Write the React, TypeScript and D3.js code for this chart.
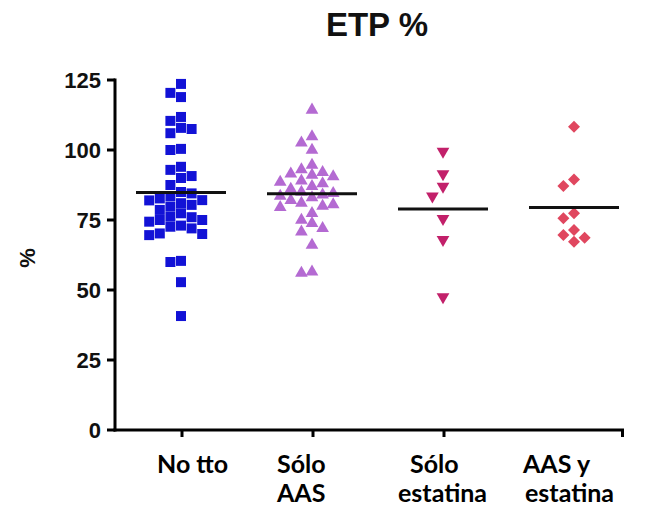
import React from "react";
import * as d3 from "d3";

const title = "ETP %";
const yLabel = "%";
const categories = ["No tto", "Sólo AAS", "Sólo estatina", "AAS y estatina"];
const categoryLines = [["No tto"], ["Sólo", "AAS"], ["Sólo", "estatina"], ["AAS y", "estatina"]];
const yTicks = [0, 25, 50, 75, 100, 125];

const noTto = [
  123.6, 120.4, 118.9, 111.8, 110.4, 107.9, 107.5, 106, 100.4, 100, 94, 92.9, 90.7, 90, 87.5,
  85, 84.5, 83.5, 82.7, 82.1, 82, 81, 80.4, 79.8, 78.6, 77.4, 76.2, 76, 75, 75, 74.4, 73, 72.6,
  72, 70.2, 70, 69.6, 60.4, 60, 52.8, 40.7,
];
const soloAAS = [
  114.3, 104.8, 102.6, 100, 94.6, 93, 92, 91.5, 91, 90.5, 89, 88.5, 88, 87, 86, 85, 84.5, 84,
  83.5, 83, 82, 81, 80.5, 80, 79.5, 77.4, 75, 73.8, 72, 70.8, 66, 56.5, 56,
];
const soloEstatina = [99.5, 91.5, 87, 83.5, 75.5, 68, 47.5];
const aasEstatina = [108.3, 89.5, 87.1, 77.4, 75.6, 71.4, 69.6, 68.7, 67.2];

const groups = [noTto, soloAAS, soloEstatina, aasEstatina];

// layout / style (not data)
const W = 645;
const H = 509;
const colors = ["#1212d6", "#b46ad2", "#c2206a", "#e0475f"];
const symbolTypes = [d3.symbolSquare, d3.symbolTriangle, d3.symbolTriangle, d3.symbolSquare];
const symbolSizes = [100, 70, 70, 72];
const symbolRotate = [0, 0, 180, 45];
const labelStarts = [[157], [277, 277], [410, 398], [523, 525]];
const COL_STEP = 10.6;
const MIN_DIST = 10;

function swarmOffsets(values: number[], y: (v: number) => number): number[] {
  const order = values.map((_, i) => i).sort((a, b) => values[b] - values[a]);
  const placed: { col: number; py: number }[] = [];
  const cols: number[] = new Array(values.length).fill(0);
  for (const i of order) {
    const py = y(values[i]);
    for (let k = 0; k < 60; k++) {
      const col = k === 0 ? 0 : k % 2 === 1 ? -Math.ceil(k / 2) : Math.ceil(k / 2);
      if (!placed.some((p) => p.col === col && Math.abs(p.py - py) < MIN_DIST)) {
        placed.push({ col, py });
        cols[i] = col;
        break;
      }
    }
  }
  return cols.map((c) => c * COL_STEP);
}

export default function App() {
  const y = d3.scaleLinear().domain([0, 125]).range([430, 80]);
  const x = d3.scalePoint<string>().domain(categories).range([181, 574]);
  const axisX0 = 115;
  const axisX1 = 624;
  const y0 = y(0);

  return (
    <svg width={W} height={H} style={{ position: "absolute", left: 0, top: 0, background: "#fff" }}>
      <rect width={W} height={H} fill="#fff" />
      <text
        x={377}
        y={36}
        textAnchor="middle"
        fontFamily="Liberation Sans, Arial, sans-serif"
        fontWeight="bold"
        fontSize={33}
        fill="#111"
      >
        {title}
      </text>

      {/* y axis */}
      <line x1={axisX0} x2={axisX0} y1={y(125) - 1.5} y2={y0 + 1.5} stroke="#000" strokeWidth={3} />
      {yTicks.map((t) => (
        <g key={t}>
          <line x1={axisX0 - 8} x2={axisX0} y1={y(t)} y2={y(t)} stroke="#000" strokeWidth={3} />
          <text
            x={101}
            y={y(t)}
            dy="0.36em"
            textAnchor="end"
            fontFamily="Liberation Sans, Arial, sans-serif"
            fontWeight="bold"
            fontSize={22}
            fill="#111"
          >
            {t}
          </text>
        </g>
      ))}
      <text
        transform={`translate(35,258) rotate(-90)`}
        textAnchor="middle"
        fontFamily="Liberation Sans, Arial, sans-serif"
        fontWeight="bold"
        fontSize={22}
        fill="#111"
      >
        {yLabel}
      </text>

      {/* x axis */}
      <line x1={axisX0 - 1.5} x2={axisX1} y1={y0} y2={y0} stroke="#000" strokeWidth={3} />
      {categories.slice(0, 3).map((c) => (
        <line key={c} x1={x(c)! + 1} x2={x(c)! + 1} y1={y0} y2={y0 + 7} stroke="#000" strokeWidth={3} />
      ))}
      <line x1={axisX1 - 1.5} x2={axisX1 - 1.5} y1={y0} y2={y0 + 7} stroke="#000" strokeWidth={3} />

      {categoryLines.map((lines, gi) =>
        lines.map((ln, li) => (
          <text
            key={`${gi}-${li}`}
            x={labelStarts[gi][li]}
            y={473 + li * 29}
            fontFamily="Lato, Carlito, sans-serif"
            fontWeight="bold"
            fontSize={25}
            fill="#000"
          >
            {ln}
          </text>
        ))
      )}

      {/* points */}
      {groups.map((vals, gi) => {
        const cx = x(categories[gi])!;
        const offs = swarmOffsets(vals, y);
        const path = d3.symbol().type(symbolTypes[gi]).size(symbolSizes[gi])()!;
        return (
          <g key={gi}>
            {vals.map((v, i) => (
              <path
                key={i}
                d={path}
                fill={colors[gi]}
                transform={`translate(${cx + offs[i]},${y(v)}) rotate(${symbolRotate[gi]})`}
              />
            ))}
          </g>
        );
      })}

      {/* mean lines */}
      {groups.map((vals, gi) => {
        const cx = x(categories[gi])!;
        const m = d3.mean(vals)!;
        return (
          <line key={gi} x1={cx - 45} x2={cx + 45} y1={y(m)} y2={y(m)} stroke="#111" strokeWidth={3} />
        );
      })}
    </svg>
  );
}
